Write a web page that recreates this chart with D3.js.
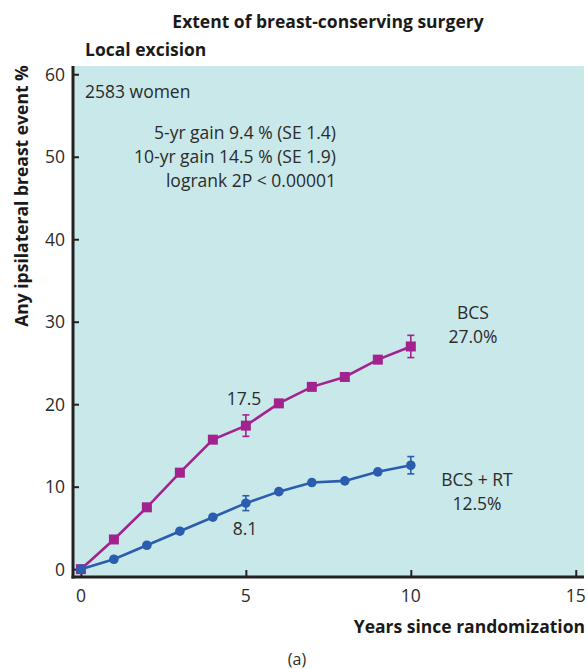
<!DOCTYPE html>
<html>
<head>
<meta charset="utf-8">
<script src="https://cdn.jsdelivr.net/npm/d3@7"></script>
<style>
  body { margin: 0; background: #fff; }
  text { font-family: "Open Sans", "Noto Sans", sans-serif; fill: #2b2b2b; }
</style>
</head>
<body>
<svg width="588" height="669"></svg>
<script>
// data
let years = [0, 1, 2, 3, 4, 5, 6, 7, 8, 9, 10];
let bcs = [0, 3.6, 7.5, 11.7, 15.7, 17.4, 20.1, 22.1, 23.3, 25.4, 27.0];
let bcsRt = [0, 1.2, 2.9, 4.6, 6.3, 8.0, 9.4, 10.5, 10.7, 11.8, 12.6];
// error bars (year, value, half-width)
let bcsErr = [[5, 17.4, 1.3], [10, 27.0, 1.35]];
let bcsRtErr = [[5, 8.0, 0.9], [10, 12.6, 1.05]];
let xTicks = [0, 5, 10, 15];
let yTicks = [0, 10, 20, 30, 40, 50, 60];

let svg = d3.select("svg");
let magenta = "#a3238e";
let blue = "#2b5daf";
let fs = 17.5;

let x = d3.scaleLinear().domain([-0.24, 15.25]).range([73, 584]);
let y = d3.scaleLinear().domain([-0.95, 61]).range([577, 66]);

// plot background
svg.append("rect")
    .attr("x", x(-0.24)).attr("y", y(61))
    .attr("width", x(15.25) - x(-0.24))
    .attr("height", y(-0.95) - y(61))
    .style("fill", "#c9e8ea");

// y axis, ticks pointing inward
let yAxis = d3.axisRight(y).tickValues(yTicks).tickSize(6).tickFormat("");
let gy = svg.append("g").attr("transform", "translate(" + x(-0.24) + ",0)").call(yAxis);
gy.select(".domain").remove();
gy.selectAll("line").style("stroke", "#222").style("stroke-width", 2);

svg.append("g").selectAll("text")
    .data(yTicks)
    .enter()
    .append("text")
    .attr("x", 65)
    .attr("y", function (d) { return y(d) + 6.5; })
    .attr("text-anchor", "end")
    .style("font-size", fs + "px")
    .text(function (d) { return d; });

// x axis, ticks pointing up
let xAxis = d3.axisTop(x).tickValues(xTicks).tickSize(7).tickFormat("");
let gx = svg.append("g").attr("transform", "translate(0," + y(-0.95) + ")").call(xAxis);
gx.select(".domain").remove();
gx.selectAll("line").style("stroke", "#222").style("stroke-width", 2);

svg.append("g").selectAll("text")
    .data(xTicks)
    .enter()
    .append("text")
    .attr("x", function (d) { return x(d); })
    .attr("y", 602)
    .attr("text-anchor", "middle")
    .style("font-size", fs + "px")
    .text(function (d) { return d; });

// spines
svg.append("line")
    .attr("x1", x(-0.24)).attr("x2", x(-0.24))
    .attr("y1", y(61)).attr("y2", y(-0.95) + 1.5)
    .style("stroke", "#222").style("stroke-width", 3);
svg.append("line")
    .attr("x1", x(-0.24) - 1.5).attr("x2", x(15.25))
    .attr("y1", y(-0.95)).attr("y2", y(-0.95))
    .style("stroke", "#222").style("stroke-width", 3);

let line = d3.line()
    .x(function (d) { return x(d[0]); })
    .y(function (d) { return y(d[1]); });

function drawErr(data, color) {
    let g = svg.append("g").style("stroke", color).style("stroke-width", 1.6);
    data.forEach(function (e) {
        let cx = x(e[0]);
        g.append("line").attr("x1", cx).attr("x2", cx)
            .attr("y1", y(e[1] - e[2])).attr("y2", y(e[1] + e[2]));
        g.append("line").attr("x1", cx - 3.5).attr("x2", cx + 3.5)
            .attr("y1", y(e[1] - e[2])).attr("y2", y(e[1] - e[2]));
        g.append("line").attr("x1", cx - 3.5).attr("x2", cx + 3.5)
            .attr("y1", y(e[1] + e[2])).attr("y2", y(e[1] + e[2]));
    });
}

let bcsPts = years.map(function (d, i) { return [d, bcs[i]]; });
let rtPts = years.map(function (d, i) { return [d, bcsRt[i]]; });

drawErr(bcsErr, magenta);
svg.append("path").attr("d", line(bcsPts))
    .style("fill", "none").style("stroke", magenta).style("stroke-width", 2.6);
svg.append("g").selectAll("rect")
    .data(bcsPts)
    .enter()
    .append("rect")
    .attr("x", function (d) { return x(d[0]) - 5; })
    .attr("y", function (d) { return y(d[1]) - 5; })
    .attr("width", 10).attr("height", 10)
    .style("fill", magenta);

drawErr(bcsRtErr, blue);
svg.append("path").attr("d", line(rtPts))
    .style("fill", "none").style("stroke", blue).style("stroke-width", 2.6);
svg.append("g").selectAll("circle")
    .data(rtPts)
    .enter()
    .append("circle")
    .attr("cx", function (d) { return x(d[0]); })
    .attr("cy", function (d) { return y(d[1]); })
    .attr("r", 4.8)
    .style("fill", blue);

// texts
function label(tx, ty, s, opts) {
    opts = opts || {};
    svg.append("text")
        .attr("x", tx).attr("y", ty)
        .attr("text-anchor", opts.anchor || "start")
        .style("font-size", (opts.size || fs) + "px")
        .style("font-weight", opts.bold ? "bold" : "normal")
        .style("fill", opts.bold ? "#1a1a1a" : "#2b2b2b")
        .text(s);
}

label(328, 28, "Extent of breast-conserving surgery", {anchor: "middle", bold: true});
label(85, 56, "Local excision", {bold: true});
label(85, 98, "2583 women");
label(336, 139, "5-yr gain 9.4 % (SE 1.4)", {anchor: "end"});
label(336, 163, "10-yr gain 14.5 % (SE 1.9)", {anchor: "end"});
label(336, 187, "logrank 2P < 0.00001", {anchor: "end"});
label(244, 405, "17.5", {anchor: "middle"});
label(245, 535, "8.1", {anchor: "middle"});
label(473, 319, "BCS", {anchor: "middle"});
label(473, 343, "27.0%", {anchor: "middle"});
label(477, 486, "BCS + RT", {anchor: "middle"});
label(477, 510, "12.5%", {anchor: "middle"});
label(585, 633, "Years since randomization", {anchor: "end", bold: true});
label(297, 665, "(a)", {anchor: "middle", size: 16});

svg.append("text")
    .attr("transform", "translate(28,196) rotate(-90)")
    .attr("text-anchor", "middle")
    .style("font-size", fs + "px")
    .style("font-weight", "bold")
    .style("fill", "#1a1a1a")
    .text("Any ipsilateral breast event %");
</script>
</body>
</html>
